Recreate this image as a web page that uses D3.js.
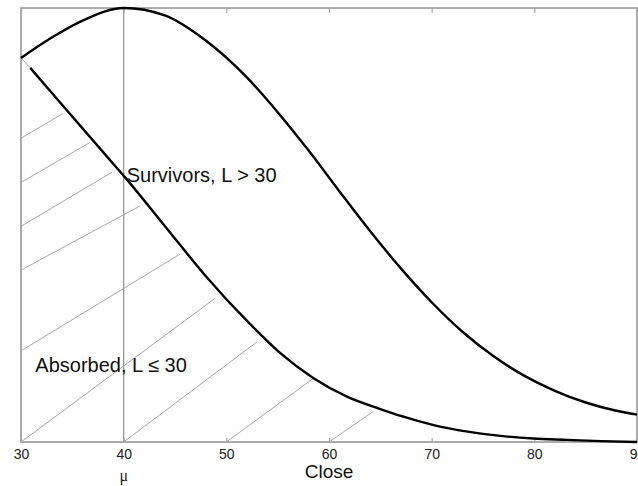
<!DOCTYPE html>
<html>
<head>
<meta charset="utf-8">
<script src="https://cdn.jsdelivr.net/npm/d3@7/dist/d3.min.js"></script>
<style>
	html, body { margin: 0; padding: 0; background: #fff; }
	svg { display: block; font-family: "Liberation Sans", Arial, sans-serif; }
</style>
</head>
<body>
<div id="chart"></div>
<script>
// x axis ticks (Close)
var closeTicks = [30, 40, 50, 60, 70, 80, 90];
var mu = 40;

// upper curve: all paths
var upperX = [30, 33, 36, 40, 44, 48, 52, 55, 58, 61, 64, 67, 70, 73, 76, 79, 82, 85, 88, 90];
var upperY = [0.885, 0.932, 0.971, 1.0, 0.983, 0.925, 0.840, 0.760, 0.672, 0.578, 0.486, 0.400, 0.322, 0.254, 0.198, 0.153, 0.118, 0.091, 0.072, 0.063];

// lower curve: absorbed part
var lowerX = [30, 30.9, 33.6, 38.4, 40.2, 44.1, 47.9, 52.3, 55.2, 58.5, 61.8, 65.0, 67.0, 70.2, 73.5, 76.7, 79.9, 83.2, 86.5, 90];
var lowerY = [0.885, 0.862, 0.788, 0.657, 0.608, 0.495, 0.385, 0.272, 0.206, 0.147, 0.104, 0.076, 0.060, 0.039, 0.024, 0.014, 0.008, 0.005, 0.002, 0.0];

// hatch segments under the lower curve [x0, y0, x1, y1]
var hatch = [
	[30, 0.885, 30.9, 0.862],
	[30, 0.700, 34.1, 0.757],
	[30, 0.598, 36.7, 0.690],
	[30, 0.497, 38.9, 0.622],
	[30, 0.396, 41.6, 0.544],
	[30, 0.210, 45.5, 0.433],
	[30, 0.000, 48.9, 0.331],
	[40, 0.000, 53.0, 0.231],
	[50, 0.000, 58.5, 0.147],
	[60, 0.000, 64.3, 0.070]
];

var labels = [
	{ text: 'Survivors, L > 30', x: 40.3, y: 0.599 },
	{ text: 'Absorbed, L \u2264 30', x: 31.4, y: 0.162 }
];

var W = 638, H = 486;
var m = { left: 21, top: 8, right: 1, bottom: 44 };
var w = W - m.left - m.right, h = H - m.top - m.bottom;
var grey = '#a3a3a3';

var svg = d3.select('#chart').append('svg').attr('width', W).attr('height', H);
var g = svg.append('g').attr('transform', 'translate(' + m.left + ',' + m.top + ')');

var x = d3.scaleLinear().domain([30, 90]).range([0, w]);
var y = d3.scaleLinear().domain([0, 1]).range([h, 0]);

// 阴影线
g.append('g').selectAll('line').data(hatch).enter().append('line')
	.attr('x1', d => x(d[0])).attr('y1', d => y(d[1]))
	.attr('x2', d => x(d[2])).attr('y2', d => y(d[3]))
	.attr('stroke', '#a8a8a8').attr('stroke-width', 1);

// mu line
g.append('line').attr('x1', x(mu)).attr('x2', x(mu)).attr('y1', 0).attr('y2', h)
	.attr('stroke', '#999').attr('stroke-width', 1.3);

// axes, ticks inside
var xb = g.append('g').attr('transform', 'translate(0,' + h + ')')
	.call(d3.axisBottom(x).tickValues(closeTicks).tickSizeInner(-4).tickSizeOuter(0).tickPadding(7));
var xt = g.append('g')
	.call(d3.axisTop(x).tickValues(closeTicks).tickSizeInner(-5).tickSizeOuter(0).tickFormat(''));
[xb, xt].forEach(function (a) {
	a.select('.domain').remove();
	a.selectAll('line').attr('stroke', grey).attr('stroke-width', 1.2);
});
xb.selectAll('text').style('font-size', '14px').attr('fill', '#222').style('font-family', '"Liberation Sans", Arial, sans-serif');

// frame
g.append('rect').attr('x', 0).attr('y', 0).attr('width', w).attr('height', h)
	.attr('fill', 'none').attr('stroke', grey).attr('stroke-width', 1.8);

var line = d3.line().x(d => x(d[0])).y(d => y(d[1])).curve(d3.curveMonotoneX);
var upper = upperX.map((v, i) => [v, upperY[i]]);
var lower = lowerX.map((v, i) => [v, lowerY[i]]).slice(1);

g.append('path').datum(upper).attr('d', line).attr('fill', 'none').attr('stroke', '#000').attr('stroke-width', 2.4);
g.append('path').datum(lower).attr('d', line).attr('fill', 'none').attr('stroke', '#000').attr('stroke-width', 2.4);

// 标签
g.selectAll('.lbl').data(labels).enter().append('text').attr('class', 'lbl')
	.attr('x', d => x(d.x)).attr('y', d => y(d.y))
	.attr('font-size', 20).attr('fill', '#111').text(d => d.text);

// axis titles
g.append('text').attr('x', w / 2).attr('y', h + 36).attr('text-anchor', 'middle')
	.attr('font-size', 19).attr('fill', '#111').text('Close');
g.append('text').attr('x', x(mu)).attr('y', h + 39).attr('text-anchor', 'middle')
	.attr('font-size', 16).attr('fill', '#222').attr('font-family', '"Liberation Serif", "Times New Roman", serif').text('\u03bc');
</script>
</body>
</html>
